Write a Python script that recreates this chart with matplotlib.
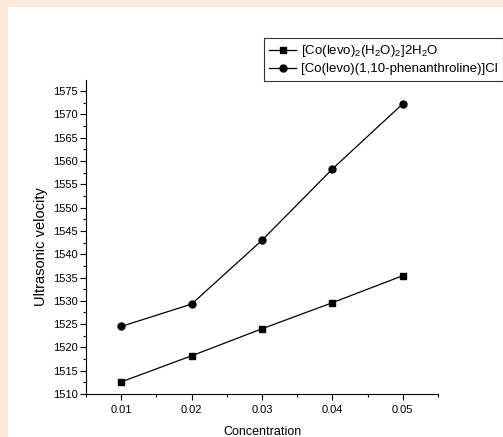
import matplotlib
matplotlib.use("Agg")
import matplotlib.pyplot as plt
from matplotlib.patches import Rectangle
from matplotlib.ticker import MultipleLocator

concentration = [0.01, 0.02, 0.03, 0.04, 0.05]
series1 = [1512.6, 1518.2, 1524.0, 1529.6, 1535.4]
series2 = [1524.5, 1529.3, 1543.0, 1558.3, 1572.3]
label1 = r'[Co(levo)$_2$(H$_2$O)$_2$]2H$_2$O'
label2 = '[Co(levo)(1,10-phenanthroline)]Cl'
xticks = [0.01, 0.02, 0.03, 0.04, 0.05]
yticks = list(range(1510, 1576, 5))

plt.rcParams['font.family'] = ['Liberation Sans', 'DejaVu Sans']
plt.rcParams['mathtext.default'] = 'regular'

W, H = 503, 437
fig = plt.figure(figsize=(W/100, H/100), dpi=100, facecolor='#fbebdc')
fig.patches.append(Rectangle((8/W, 0), 1 - 8/W, (H - 7)/H, transform=fig.transFigure,
                             facecolor='white', edgecolor='none', zorder=-10))

ax = fig.add_axes([86/W, (H-394)/H, (438-86)/W, (394-80)/H])
ax.set_facecolor('none')
ax.plot(concentration, series1, '-s', color='black', lw=0.9, ms=4.5, label=label1)
ax.plot(concentration, series2, '-o', color='black', lw=0.9, ms=5, label=label2)

ax.set_xlim(0.005, 0.055)
ax.set_ylim(1510, 1577.4)
ax.set_xticks(xticks)
ax.set_xticklabels([f'{v:.2f}' for v in xticks])
ax.set_yticks(yticks)
ax.xaxis.set_minor_locator(MultipleLocator(0.005))
ax.yaxis.set_minor_locator(MultipleLocator(2.5))
ax.tick_params(which='major', direction='out', length=4, width=0.8, labelsize=8, pad=2)
ax.tick_params(axis='x', which='major', pad=4)
ax.tick_params(which='minor', direction='out', length=2, width=0.8)
for s in ['top', 'right']:
    ax.spines[s].set_visible(False)
for s in ['left', 'bottom']:
    ax.spines[s].set_linewidth(0.8)

ax.set_xlabel('Concentration', fontsize=9, labelpad=8)
ax.set_ylabel('Ultrasonic velocity', fontsize=10.5)
ax.yaxis.set_label_coords(-0.108, 0.468)

leg = fig.legend(loc='upper right', bbox_to_anchor=(1.0, (H-38)/H), fontsize=9.5,
                 frameon=True, fancybox=False, edgecolor='black', handlelength=2.0,
                 handletextpad=0.4, borderpad=0.4, labelspacing=0.3, borderaxespad=0)
leg.get_frame().set_linewidth(0.8)

fig.savefig('out.png', dpi=100, facecolor=fig.get_facecolor())
